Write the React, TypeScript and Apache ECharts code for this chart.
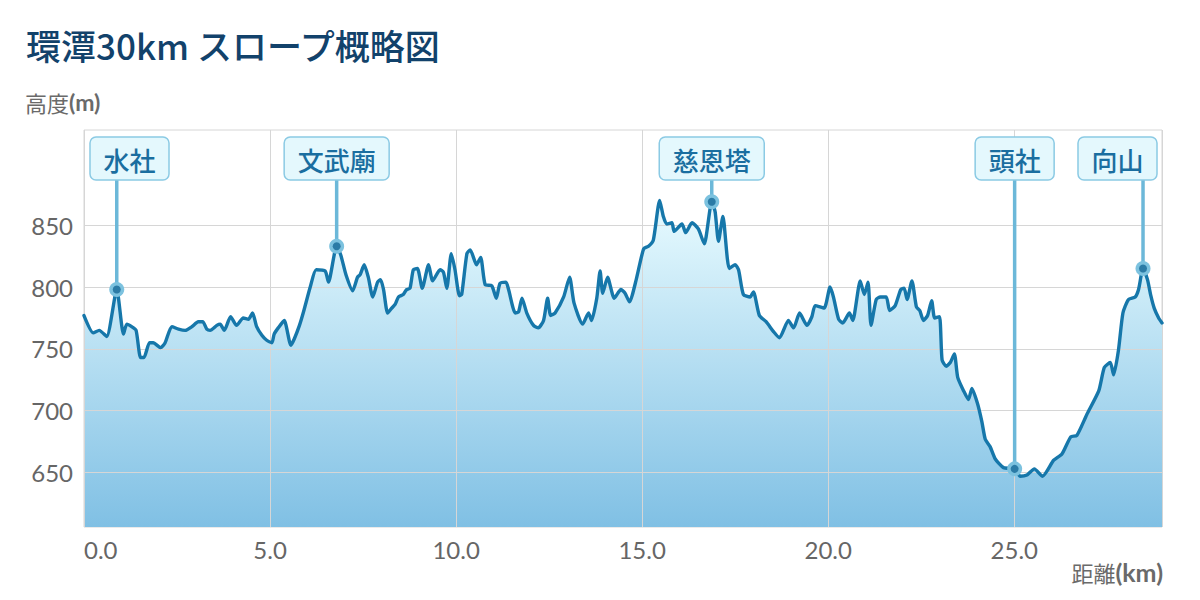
import React, { useEffect, useRef } from "react";
import * as echarts from "echarts";

const distKm = [
  0.0, 0.25, 0.41, 0.61, 0.88, 1.06, 1.15, 1.28, 1.4, 1.52, 1.61, 1.76, 1.86, 2.06, 2.18, 2.36, 2.54, 2.72, 2.9,
  3.07, 3.19, 3.3, 3.39, 3.57, 3.66, 3.77, 3.94, 4.1, 4.28, 4.42, 4.53, 4.64, 4.78, 4.91, 5.05, 5.11, 5.22, 5.38,
  5.56, 5.65, 5.79, 5.9, 6.08, 6.24, 6.48, 6.57, 6.79, 6.9, 7.04, 7.22, 7.35, 7.42, 7.53, 7.64, 7.76, 7.89, 7.97,
  8.05, 8.16, 8.27, 8.36, 8.45, 8.58, 8.67, 8.76, 8.85, 8.96, 9.09, 9.26, 9.37, 9.57, 9.66, 9.75, 9.87, 9.97,
  10.09, 10.15, 10.29, 10.38, 10.55, 10.66, 10.78, 10.96, 11.08, 11.18, 11.34, 11.41, 11.59, 11.68, 11.77, 11.9,
  12.08, 12.21, 12.35, 12.46, 12.54, 12.66, 12.89, 13.05, 13.17, 13.4, 13.56, 13.64, 13.78, 13.87, 13.94, 14.07,
  14.25, 14.43, 14.54, 14.66, 14.84, 15.04, 15.17, 15.3, 15.47, 15.57, 15.66, 15.8, 15.86, 16.07, 16.17, 16.34,
  16.51, 16.67, 16.87, 16.96, 17.05, 17.17, 17.34, 17.5, 17.59, 17.72, 17.9, 17.99, 18.15, 18.33, 18.53, 18.69,
  18.93, 19.07, 19.23, 19.43, 19.56, 19.65, 19.89, 20.05, 20.14, 20.28, 20.39, 20.57, 20.66, 20.86, 20.97, 21.07,
  21.15, 21.29, 21.4, 21.56, 21.65, 21.8, 21.95, 22.04, 22.12, 22.25, 22.37, 22.46, 22.56, 22.67, 22.78, 22.86,
  22.99, 23.06, 23.17, 23.28, 23.39, 23.48, 23.64, 23.77, 23.86, 24.01, 24.13, 24.22, 24.35, 24.49, 24.71, 25.01,
  25.16, 25.34, 25.54, 25.76, 26.06, 26.28, 26.52, 26.68, 26.95, 27.27, 27.42, 27.58, 27.67, 27.8, 27.92, 28.07,
  28.25, 28.34, 28.46, 28.58, 28.67, 28.76, 28.88, 28.97,
];

const elevM = [
  777, 763, 765, 760, 798, 762, 770, 768, 765, 743, 743, 755, 755, 751, 755, 768, 766, 765, 768,
  772, 772, 766, 765, 769, 770, 765, 776, 769, 775, 774, 779, 768, 761, 757, 755, 762, 767, 773,
  753, 758, 769, 780, 800, 814, 813, 804, 833, 826, 810, 797, 808, 810, 818, 808, 792, 804, 806,
  798, 779, 783, 786, 792, 794, 798, 799, 814, 815, 799, 818, 805, 814, 812, 799, 827, 814,
  793, 794, 827, 830, 818, 824, 802, 801, 791, 803, 804, 798, 779, 780, 791, 779,
  769, 767, 773, 791, 777, 779, 792, 808, 787, 770, 779, 773, 791, 813, 795, 808,
  791, 798, 795, 788, 806, 831, 833, 838, 870, 857, 851, 852, 845, 851, 844, 852,
  847, 835, 869, 861, 837, 857, 815, 818, 814, 794, 792, 796, 777, 772, 764, 759,
  773, 767, 779, 769, 776, 785, 783, 800, 792, 774, 771, 779, 773, 805, 794, 804,
  769, 790, 792, 792, 781, 785, 798, 799, 790, 805, 784, 781, 773, 777, 789, 775,
  776, 741, 736, 739, 746, 727, 716, 709, 718, 706, 691, 677, 671, 661, 654, 653,
  647, 648, 653, 647, 660, 665, 679, 680, 697, 716, 735, 739, 729, 749, 779, 790,
  792, 798, 815, 806, 793, 783, 775, 771,
];

const spotNames = ["水社", "文武廟", "慈恩塔", "頭社", "向山"];
const spotKm = [0.88, 6.79, 16.87, 25.01, 28.46];
const spotElev = [798, 833, 869, 653, 815];

const yTickValues = [650, 700, 750, 800, 850];
const xTickInterval = 5;
const xMin = 0;
const xMax = 28.97;
const yMin = 606;
const yMax = 927;

const latinFont = "Lato, 'Noto Sans CJK JP', sans-serif";
const cjkFont = "'Noto Sans CJK JP', Lato, sans-serif";

export default function App() {
  const ref = useRef<HTMLDivElement>(null);

  useEffect(() => {
    if (!ref.current) return;
    const chart = echarts.init(ref.current, null, { renderer: "svg" });
    const profile = distKm.map((d, i) => [d, elevM[i]]);
    const spots = spotKm.map((d, i) => [d, spotElev[i]]);

    chart.setOption({
      animation: false,
      backgroundColor: "#ffffff",
      title: {
        text: "環潭30km スロープ概略図",
        left: 21,
        top: 22,
        textStyle: {
          fontSize: 35,
          fontWeight: 500,
          color: "#12426b",
          fontFamily: cjkFont,
        },
      },
      graphic: [
        {
          type: "text",
          left: 25,
          top: 90,
          style: {
            text: "高度{u|(m)}",
            fontSize: 22,
            fill: "#6a6a6a",
            fontFamily: cjkFont,
            rich: {
              u: { fontSize: 23, fontWeight: "bold", fill: "#6a6a6a", fontFamily: latinFont },
            },
          },
        },
        {
          type: "text",
          right: 37,
          top: 559,
          style: {
            text: "距離{u|(km)}",
            fontSize: 22,
            fill: "#6a6a6a",
            fontFamily: cjkFont,
            rich: {
              u: { fontSize: 25, fontWeight: "bold", fill: "#6a6a6a", fontFamily: latinFont },
            },
          },
        },
      ],
      grid: {
        left: 84,
        right: 38,
        top: 130,
        bottom: 73,
        show: true,
        borderColor: "#d6d6d6",
        borderWidth: 1,
        backgroundColor: "transparent",
      },
      xAxis: {
        type: "value",
        min: xMin,
        max: xMax,
        interval: xTickInterval,
        z: 3,
        axisLine: { show: false },
        axisTick: { show: false },
        splitLine: { show: true, lineStyle: { color: "#d6d6d6", width: 1 } },
        axisLabel: {
          formatter: (v: number) => v.toFixed(1),
          showMaxLabel: false,
          alignMinLabel: "left",
          margin: 10,
          fontSize: 24,
          color: "#666666",
          fontFamily: latinFont,
        },
      },
      yAxis: {
        type: "value",
        min: yMin,
        max: yMax,
        z: 3,
        axisLine: { show: false },
        axisTick: { show: false, customValues: yTickValues },
        splitLine: { show: true, lineStyle: { color: "#d6d6d6", width: 1 } },
        axisLabel: {
          customValues: yTickValues,
          margin: 11,
          fontSize: 24,
          color: "#666666",
          fontFamily: latinFont,
        },
      },
      series: [
        {
          type: "line",
          data: profile,
          symbol: "none",
          smooth: 0.2,
          z: 2,
          lineStyle: { width: 0 },
          areaStyle: {
            opacity: 1,
            color: new echarts.graphic.LinearGradient(0, 0, 0, 1, [
              { offset: 0, color: "#e8fbff" },
              { offset: 1, color: "#80c0e4" },
            ]),
          },
          silent: true,
        },
        {
          type: "line",
          data: profile,
          symbol: "none",
          smooth: 0.2,
          z: 4,
          lineStyle: { width: 3.4, color: "#1677aa", join: "round", cap: "round" },
          silent: true,
        },
        {
          type: "custom",
          z: 10,
          clip: false,
          data: spots,
          encode: { x: 0, y: 1 },
          renderItem: (params: any, api: any) => {
            const name = spotNames[params.dataIndex];
            const pt = api.coord([api.value(0), api.value(1)]);
            const cs = params.coordSys;
            const fs = 26;
            const w = name.length * fs + 27;
            const h = 43;
            const top = cs.y + 7;
            let bx = pt[0] - w / 2;
            bx = Math.max(cs.x + 6, Math.min(cs.x + cs.width - 5 - w, bx));
            return {
              type: "group",
              children: [
                {
                  type: "line",
                  shape: { x1: pt[0], y1: top + h, x2: pt[0], y2: pt[1] },
                  style: { stroke: "#6cb8d9", lineWidth: 3.5 },
                },
                {
                  type: "rect",
                  shape: { x: bx, y: top, width: w, height: h, r: 6 },
                  style: { fill: "#e4f8fd", stroke: "#8bcae4", lineWidth: 1.5 },
                },
                {
                  type: "text",
                  style: {
                    text: name,
                    x: bx + w / 2,
                    y: top + h / 2 + 1,
                    align: "center",
                    verticalAlign: "middle",
                    fontSize: fs,
                    fontWeight: 500,
                    fontFamily: cjkFont,
                    fill: "#1a6ea0",
                  },
                },
                {
                  type: "circle",
                  shape: { cx: pt[0], cy: pt[1], r: 7.5 },
                  style: { fill: "#7cc2df" },
                },
                {
                  type: "circle",
                  shape: { cx: pt[0], cy: pt[1], r: 4 },
                  style: { fill: "#2b7ba6" },
                },
              ],
            };
          },
        },
      ],
    });

    return () => {
      chart.dispose();
    };
  }, []);

  return (
    <div
      ref={ref}
      style={{ position: "absolute", left: 0, top: 0, width: 1200, height: 600 }}
    />
  );
}
